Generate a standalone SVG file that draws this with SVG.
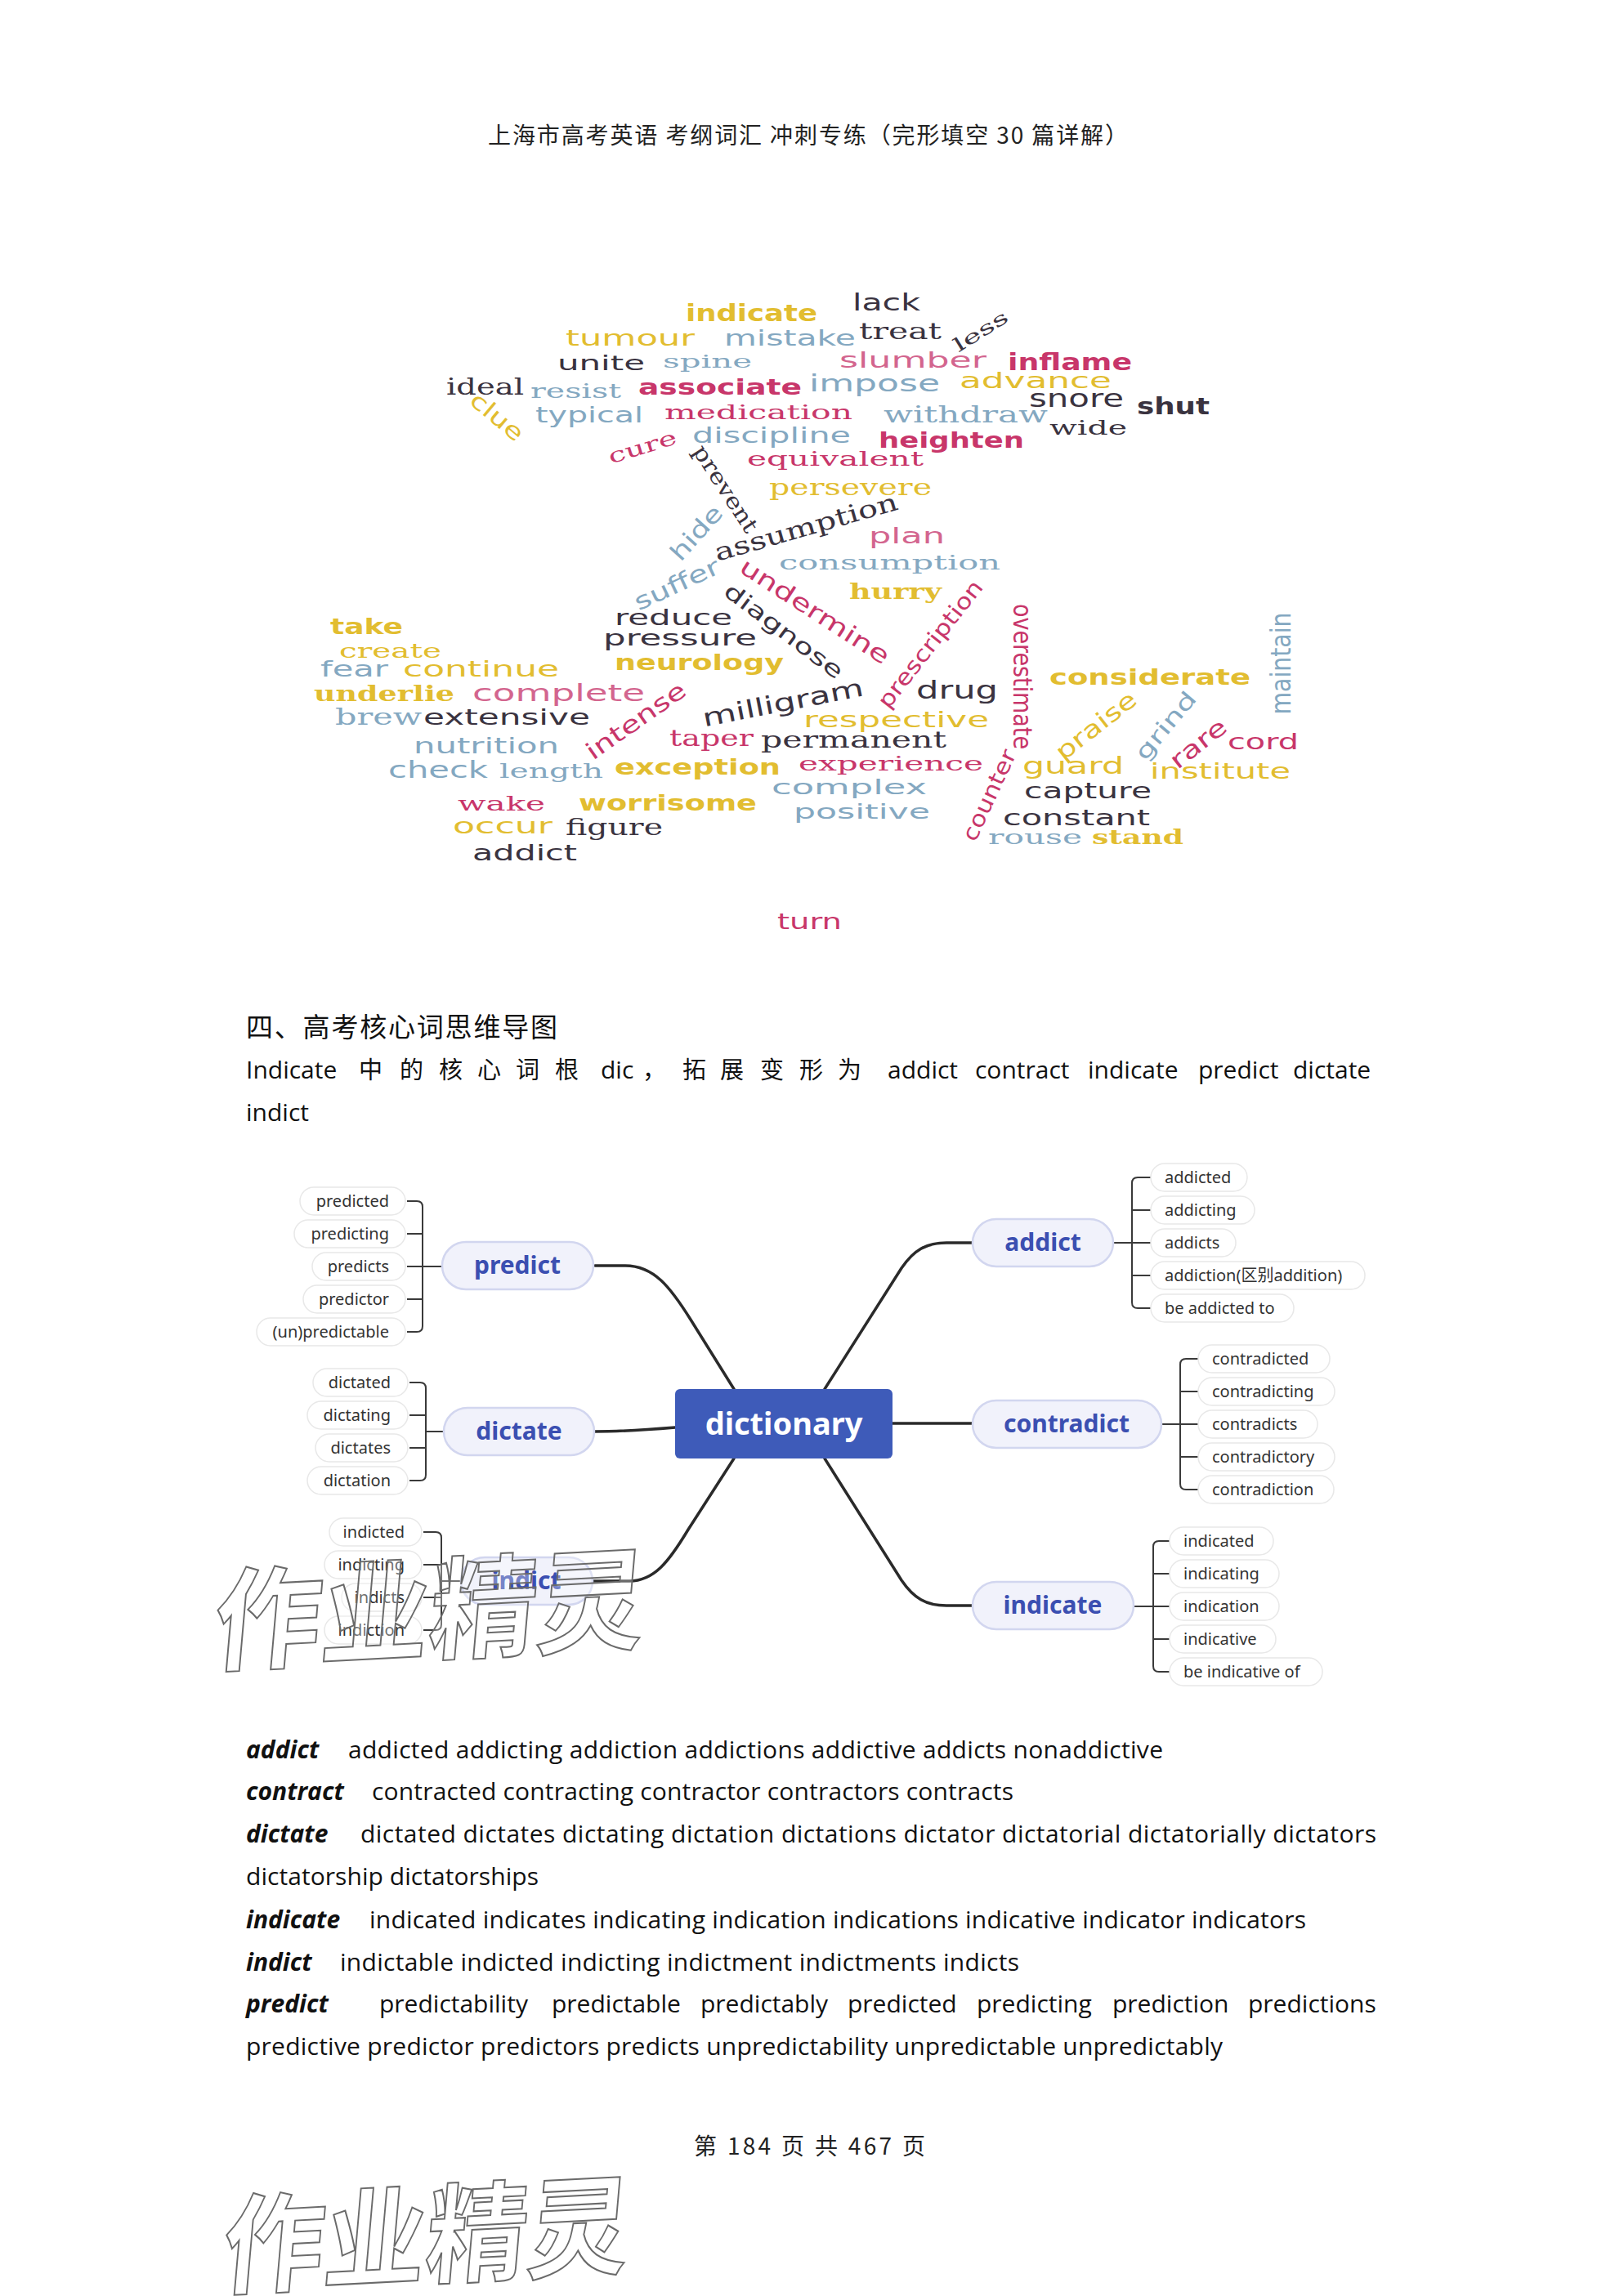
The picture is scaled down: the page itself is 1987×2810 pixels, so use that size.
<svg xmlns="http://www.w3.org/2000/svg" width="1987" height="2810" viewBox="0 0 1987 2810">
<style>
.ws{font-family:"DejaVu Sans",sans-serif}
.wf{font-family:"DejaVu Serif",serif}
.y{fill:#E2BD30}.b{fill:#84A8C1}.p{fill:#C8366A}.l{fill:#D3658E}.d{fill:#3A3340}
.bd{font-weight:bold}
.r{text-anchor:middle;dominant-baseline:central}
.hdr{font-family:"Noto Sans CJK SC",sans-serif;font-size:28px;fill:#222}
.ttl{font-family:"Noto Sans CJK SC",sans-serif;font-size:33px;fill:#111}
.body{font-family:"Open Sans","Noto Sans CJK SC",sans-serif;font-size:30px;fill:#111}
.cjk{font-family:"Noto Sans CJK SC",sans-serif;font-size:29px}
.kw{font-weight:bold;font-style:italic}
.cp{fill:#fff;stroke:#E8E8E8;stroke-width:1.5}
.ct{font-family:"Noto Sans","Noto Sans CJK SC",sans-serif;font-size:20px;fill:#333}
.mp{fill:#F1F2FB;stroke:#D2D6EF;stroke-width:2.5}
.mt{font-family:"Noto Sans",sans-serif;font-size:30px;font-weight:bold;fill:#3B4FB1;text-anchor:middle}
.cn{fill:none;stroke:#2A2A2A;stroke-width:3.5;stroke-linecap:round}
.br{fill:none;stroke:#3A3A3A;stroke-width:2}
.wm{font-family:"Noto Sans CJK SC",sans-serif;font-weight:bold;fill:#fff;fill-opacity:0.3;stroke:#6A6A6A;stroke-width:2}
</style>
<rect width="1987" height="2810" fill="#fff"/>

<text class="hdr" x="597" y="176" textLength="783" lengthAdjust="spacing">上海市高考英语  考纲词汇  冲刺专练（完形填空 30 篇详解）</text>

<g id="wordcloud" font-size="27" lengthAdjust="spacingAndGlyphs">
<text class="ws y bd" x="839" y="393" font-size="28" textLength="161" lengthAdjust="spacingAndGlyphs">indicate</text>
<text class="ws d" x="1043" y="380" font-size="28" textLength="83" lengthAdjust="spacingAndGlyphs">lack</text>
<text class="ws y" x="692" y="423" textLength="158" lengthAdjust="spacingAndGlyphs">tumour</text>
<text class="ws b" x="886" y="423" textLength="161" lengthAdjust="spacingAndGlyphs">mistake</text>
<text class="wf d" x="1051" y="415" font-size="28" textLength="101" lengthAdjust="spacingAndGlyphs">treat</text>
<text class="ws d" x="682" y="453" font-size="25" textLength="107" lengthAdjust="spacingAndGlyphs">unite</text>
<text class="wf b" x="811" y="450" font-size="23" textLength="109" lengthAdjust="spacingAndGlyphs">spine</text>
<text class="ws l" x="1027" y="450" textLength="180" lengthAdjust="spacingAndGlyphs">slumber</text>
<text class="ws p bd" x="1233" y="453" font-size="28" textLength="152" lengthAdjust="spacingAndGlyphs">inflame</text>
<text class="wf d" x="546" y="483" textLength="95" lengthAdjust="spacingAndGlyphs">ideal</text>
<text class="wf b" x="649" y="487" font-size="24" textLength="111" lengthAdjust="spacingAndGlyphs">resist</text>
<text class="ws p bd" x="781" y="483" textLength="200" lengthAdjust="spacingAndGlyphs">associate</text>
<text class="ws b" x="990" y="479" font-size="28" textLength="160" lengthAdjust="spacingAndGlyphs">impose</text>
<text class="ws y" x="1174" y="475" textLength="186" lengthAdjust="spacingAndGlyphs">advance</text>
<text class="ws d" x="1259" y="498" font-size="30" textLength="116" lengthAdjust="spacingAndGlyphs">snore</text>
<text class="ws d bd" x="1391" y="507" font-size="29" textLength="89" lengthAdjust="spacingAndGlyphs">shut</text>
<text class="ws b" x="655" y="517" font-size="26" textLength="132" lengthAdjust="spacingAndGlyphs">typical</text>
<text class="wf p" x="813" y="513" font-size="25" textLength="230" lengthAdjust="spacingAndGlyphs">medication</text>
<text class="wf b" x="1081" y="517" font-size="28" textLength="201" lengthAdjust="spacingAndGlyphs">withdraw</text>
<text class="wf d" x="1284" y="532" font-size="25" textLength="95" lengthAdjust="spacingAndGlyphs">wide</text>
<text class="ws b" x="847" y="542" font-size="26" textLength="194" lengthAdjust="spacingAndGlyphs">discipline</text>
<text class="ws p bd" x="1075" y="548" textLength="178" lengthAdjust="spacingAndGlyphs">heighten</text>
<text class="wf p" x="914" y="570" font-size="25" textLength="216" lengthAdjust="spacingAndGlyphs">equivalent</text>
<text class="wf y" x="941" y="606" textLength="199" lengthAdjust="spacingAndGlyphs">persevere</text>
<text class="ws l" x="1063" y="665" textLength="93" lengthAdjust="spacingAndGlyphs">plan</text>
<text class="wf b" x="953" y="697" font-size="25" textLength="271" lengthAdjust="spacingAndGlyphs">consumption</text>
<text class="wf y bd" x="1039" y="733" font-size="26" textLength="113" lengthAdjust="spacingAndGlyphs">hurry</text>
<text class="ws d" x="752" y="765" textLength="144" lengthAdjust="spacingAndGlyphs">reduce</text>
<text class="ws d" x="738" y="790" textLength="188" lengthAdjust="spacingAndGlyphs">pressure</text>
<text class="ws y bd" x="752" y="820" textLength="207" lengthAdjust="spacingAndGlyphs">neurology</text>
<text class="ws y bd" x="404" y="776" textLength="89" lengthAdjust="spacingAndGlyphs">take</text>
<text class="wf y" x="415" y="805" font-size="25" textLength="125" lengthAdjust="spacingAndGlyphs">create</text>
<text class="ws b" x="392" y="828" textLength="83" lengthAdjust="spacingAndGlyphs">fear</text>
<text class="ws y" x="493" y="828" textLength="191" lengthAdjust="spacingAndGlyphs">continue</text>
<text class="wf y bd" x="384" y="858" font-size="26" textLength="172" lengthAdjust="spacingAndGlyphs">underlie</text>
<text class="ws l" x="578" y="858" font-size="28" textLength="211" lengthAdjust="spacingAndGlyphs">complete</text>
<text class="wf b" x="410" y="887" textLength="106" lengthAdjust="spacingAndGlyphs">brew</text>
<text class="ws d" x="518" y="887" font-size="26" textLength="204" lengthAdjust="spacingAndGlyphs">extensive</text>
<text class="ws b" x="506" y="922" font-size="26" textLength="178" lengthAdjust="spacingAndGlyphs">nutrition</text>
<text class="ws b" x="475" y="952" font-size="28" textLength="122" lengthAdjust="spacingAndGlyphs">check</text>
<text class="wf b" x="611" y="952" font-size="24" textLength="127" lengthAdjust="spacingAndGlyphs">length</text>
<text class="ws y bd" x="752" y="948" font-size="26" textLength="203" lengthAdjust="spacingAndGlyphs">exception</text>
<text class="wf p" x="977" y="943" font-size="25" textLength="226" lengthAdjust="spacingAndGlyphs">experience</text>
<text class="ws d" x="1121" y="855" font-size="31" textLength="100" lengthAdjust="spacingAndGlyphs">drug</text>
<text class="ws y" x="983" y="890" textLength="227" lengthAdjust="spacingAndGlyphs">respective</text>
<text class="wf p" x="819" y="913" textLength="103" lengthAdjust="spacingAndGlyphs">taper</text>
<text class="wf d" x="931" y="915" font-size="28" textLength="227" lengthAdjust="spacingAndGlyphs">permanent</text>
<text class="ws y bd" x="1284" y="838" textLength="246" lengthAdjust="spacingAndGlyphs">considerate</text>
<text class="ws p" x="1502" y="917" textLength="87" lengthAdjust="spacingAndGlyphs">cord</text>
<text class="ws y" x="1251" y="947" font-size="29" textLength="124" lengthAdjust="spacingAndGlyphs">guard</text>
<text class="ws y" x="1407" y="953" textLength="172" lengthAdjust="spacingAndGlyphs">institute</text>
<text class="ws b" x="944" y="972" font-size="25" textLength="190" lengthAdjust="spacingAndGlyphs">complex</text>
<text class="ws d" x="1253" y="977" font-size="26" textLength="156" lengthAdjust="spacingAndGlyphs">capture</text>
<text class="ws b" x="971" y="1002" font-size="25" textLength="167" lengthAdjust="spacingAndGlyphs">positive</text>
<text class="ws d" x="1227" y="1010" font-size="26" textLength="180" lengthAdjust="spacingAndGlyphs">constant</text>
<text class="wf p" x="560" y="992" font-size="24" textLength="107" lengthAdjust="spacingAndGlyphs">wake</text>
<text class="ws y bd" x="708" y="992" textLength="218" lengthAdjust="spacingAndGlyphs">worrisome</text>
<text class="ws y" x="554" y="1020" textLength="122" lengthAdjust="spacingAndGlyphs">occur</text>
<text class="wf d" x="692" y="1022" textLength="119" lengthAdjust="spacingAndGlyphs">figure</text>
<text class="wf b" x="1209" y="1033" font-size="25" textLength="115" lengthAdjust="spacingAndGlyphs">rouse</text>
<text class="wf y bd" x="1336" y="1033" font-size="25" textLength="112" lengthAdjust="spacingAndGlyphs">stand</text>
<text class="ws d" x="578" y="1053" textLength="128" lengthAdjust="spacingAndGlyphs">addict</text>
<text class="ws p" x="951" y="1137" textLength="79" lengthAdjust="spacingAndGlyphs">turn</text>

<text class="wf d r" transform="translate(1200 405) rotate(-32)" font-size="23" textLength="74" lengthAdjust="spacingAndGlyphs">less</text>
<text class="ws y r" transform="translate(608 510) rotate(40)" font-size="28" textLength="76" lengthAdjust="spacingAndGlyphs">clue</text>
<text class="wf p r" transform="translate(786 547) rotate(-17)" font-size="25" textLength="86" lengthAdjust="spacingAndGlyphs">cure</text>
<text class="wf d r" transform="translate(888 598) rotate(57)" font-size="27" textLength="122" lengthAdjust="spacingAndGlyphs">prevent</text>
<text class="ws b r" transform="translate(852 652) rotate(-48)" font-size="29" textLength="80" lengthAdjust="spacingAndGlyphs">hide</text>
<text class="wf d r" transform="translate(986 645) rotate(-16)" font-size="30" textLength="232" lengthAdjust="spacingAndGlyphs">assumption</text>
<text class="ws b r" transform="translate(828 715) rotate(-25)" font-size="29" textLength="112" lengthAdjust="spacingAndGlyphs">suffer</text>
<text class="ws p r" transform="translate(997 748) rotate(33)" font-size="29" textLength="212" lengthAdjust="spacingAndGlyphs">undermine</text>
<text class="ws d r" transform="translate(959 772) rotate(37)" font-size="27" textLength="175" lengthAdjust="spacingAndGlyphs">diagnose</text>
<text class="ws p r" transform="translate(1138 788) rotate(-52)" font-size="27" textLength="190" lengthAdjust="spacingAndGlyphs">prescription</text>
<text class="ws p r" transform="translate(1251 828) rotate(90)" font-size="32" textLength="178" lengthAdjust="spacingAndGlyphs">overestimate</text>
<text class="ws p r" transform="translate(778 882) rotate(-35)" font-size="29" textLength="142" lengthAdjust="spacingAndGlyphs">intense</text>
<text class="ws d r" transform="translate(958 860) rotate(-11)" font-size="30" textLength="200" lengthAdjust="spacingAndGlyphs">milligram</text>
<text class="ws b r" transform="translate(1567 812) rotate(-90)" font-size="33" textLength="125" lengthAdjust="spacingAndGlyphs">maintain</text>
<text class="ws y r" transform="translate(1341 888) rotate(-38)" font-size="29" textLength="117" lengthAdjust="spacingAndGlyphs">praise</text>
<text class="ws b r" transform="translate(1426 888) rotate(-50)" font-size="27" textLength="100" lengthAdjust="spacingAndGlyphs">grind</text>
<text class="ws p r" transform="translate(1466 910) rotate(-38)" font-size="29" textLength="80" lengthAdjust="spacingAndGlyphs">rare</text>
<text class="ws p r" transform="translate(1210 973) rotate(-65)" font-size="27" textLength="120" lengthAdjust="spacingAndGlyphs">counter</text>
</g>

<g id="section-title">
<text class="ttl" x="301" y="1269" textLength="381" lengthAdjust="spacing">四、高考核心词思维导图</text>
<text class="body" y="1320"><tspan x="301">Indicate</tspan><tspan class="cjk" x="439">中</tspan><tspan class="cjk" x="489">的</tspan><tspan class="cjk" x="537">核</tspan><tspan class="cjk" x="584">心</tspan><tspan class="cjk" x="631">词</tspan><tspan class="cjk" x="679">根</tspan><tspan x="735">dic</tspan><tspan class="cjk" x="786">，</tspan><tspan class="cjk" x="835">拓</tspan><tspan class="cjk" x="881">展</tspan><tspan class="cjk" x="930">变</tspan><tspan class="cjk" x="978">形</tspan><tspan class="cjk" x="1025">为</tspan><tspan x="1086">addict</tspan><tspan x="1193">contract</tspan><tspan x="1331">indicate</tspan><tspan x="1466">predict</tspan><tspan x="1582">dictate</tspan></text>
<text class="body" x="301" y="1372">indict</text>
</g>

<g id="connectors">
<path class="cn" d="M728,1549 H765 C800,1549 820,1575 845,1615 L898,1700"/>
<path class="cn" d="M727,1752 C765,1752 790,1750 826,1747"/>
<path class="cn" d="M725,1935 H770 C800,1935 818,1912 842,1872 L898,1785"/>
<path class="cn" d="M1009,1700 L1103,1552 C1118,1530 1133,1521 1158,1521 H1190"/>
<path class="cn" d="M1092,1742 H1190"/>
<path class="cn" d="M1009,1785 L1103,1934 C1118,1956 1133,1965 1158,1965 H1190"/>
<path class="br" d="M498,1470 H510 Q517,1470 517,1477 V1623 Q517,1630 510,1630 H498 M498,1510 H517 M498,1550 H541 M498,1590 H517"/>
<path class="br" d="M501,1692 H514 Q521,1692 521,1699 V1805 Q521,1812 514,1812 H501 M501,1732 H521 M521,1752 H543 M501,1772 H521"/>
<path class="br" d="M518,1875 H533 Q540,1875 540,1882 V1988 Q540,1995 533,1995 H518 M518,1915 H540 M518,1955 H540 M540,1935 H564"/>
<path class="br" d="M1362,1521 H1408 M1408,1441 H1392 Q1385,1441 1385,1448 V1594 Q1385,1601 1392,1601 H1408 M1385,1481 H1408 M1385,1561 H1408"/>
<path class="br" d="M1421,1743 H1466 M1466,1663 H1451 Q1444,1663 1444,1670 V1816 Q1444,1823 1451,1823 H1466 M1444,1703 H1466 M1444,1783 H1466"/>
<path class="br" d="M1387,1966 H1431 M1431,1886 H1418 Q1411,1886 1411,1893 V2039 Q1411,2046 1418,2046 H1431 M1411,1926 H1431 M1411,2006 H1431"/>
</g>

<g id="n-dictionary"><rect x="826" y="1700" width="266" height="85" rx="6" fill="#3E5BB9"/><text x="959" y="1756" font-family="Noto Sans,sans-serif" font-size="38" font-weight="bold" fill="#fff" text-anchor="middle">dictionary</text></g>
<g id="n-predict"><rect class="mp" x="541" y="1520" width="185" height="58" rx="29"/><text class="mt" x="633" y="1559">predict</text></g>
<g id="n-dictate"><rect class="mp" x="543" y="1723" width="184" height="58" rx="29"/><text class="mt" x="635" y="1762">dictate</text></g>
<g id="n-indict"><rect class="mp" x="564" y="1906" width="161" height="58" rx="29"/><text class="mt" x="644" y="1945">indict</text></g>
<g id="n-addict"><rect class="mp" x="1190" y="1492" width="172" height="58" rx="29"/><text class="mt" x="1276" y="1531">addict</text></g>
<g id="n-contradict"><rect class="mp" x="1190" y="1714" width="231" height="58" rx="29"/><text class="mt" x="1305" y="1753">contradict</text></g>
<g id="n-indicate"><rect class="mp" x="1190" y="1936" width="197" height="58" rx="29"/><text class="mt" x="1288" y="1975">indicate</text></g>

<g id="n-predicted"><rect class="cp" x="367" y="1453" width="129" height="34" rx="17"/><text class="ct" x="476" y="1477" text-anchor="end">predicted</text></g>
<g id="n-predicting"><rect class="cp" x="360" y="1493" width="136" height="34" rx="17"/><text class="ct" x="476" y="1517" text-anchor="end">predicting</text></g>
<g id="n-predicts"><rect class="cp" x="382" y="1533" width="114" height="34" rx="17"/><text class="ct" x="476" y="1557" text-anchor="end">predicts</text></g>
<g id="n-predictor"><rect class="cp" x="371" y="1573" width="125" height="34" rx="17"/><text class="ct" x="476" y="1597" text-anchor="end">predictor</text></g>
<g id="n-unpredictable"><rect class="cp" x="314" y="1613" width="182" height="34" rx="17"/><text class="ct" x="476" y="1637" text-anchor="end">(un)predictable</text></g>

<g id="n-dictated"><rect class="cp" x="383" y="1675" width="116" height="34" rx="17"/><text class="ct" x="478" y="1699" text-anchor="end">dictated</text></g>
<g id="n-dictating"><rect class="cp" x="376" y="1715" width="123" height="34" rx="17"/><text class="ct" x="478" y="1739" text-anchor="end">dictating</text></g>
<g id="n-dictates"><rect class="cp" x="386" y="1755" width="113" height="34" rx="17"/><text class="ct" x="478" y="1779" text-anchor="end">dictates</text></g>
<g id="n-dictation"><rect class="cp" x="376" y="1795" width="123" height="34" rx="17"/><text class="ct" x="478" y="1819" text-anchor="end">dictation</text></g>

<g id="n-indicted"><rect class="cp" x="403" y="1858" width="113" height="34" rx="17"/><text class="ct" x="495" y="1882" text-anchor="end">indicted</text></g>
<g id="n-indicting"><rect class="cp" x="397" y="1898" width="119" height="34" rx="17"/><text class="ct" x="495" y="1922" text-anchor="end">indicting</text></g>
<g id="n-indicts"><rect class="cp" x="418" y="1938" width="98" height="34" rx="17"/><text class="ct" x="495" y="1962" text-anchor="end">indicts</text></g>
<g id="n-indiction"><rect class="cp" x="397" y="1978" width="119" height="34" rx="17"/><text class="ct" x="495" y="2002" text-anchor="end">indiction</text></g>

<g id="n-addicted"><rect class="cp" x="1408" y="1424" width="118" height="34" rx="17"/><text class="ct" x="1425" y="1448">addicted</text></g>
<g id="n-addicting"><rect class="cp" x="1408" y="1464" width="127" height="34" rx="17"/><text class="ct" x="1425" y="1488">addicting</text></g>
<g id="n-addicts"><rect class="cp" x="1408" y="1504" width="104" height="34" rx="17"/><text class="ct" x="1425" y="1528">addicts</text></g>
<g id="n-addiction"><rect class="cp" x="1408" y="1544" width="262" height="34" rx="17"/><text class="ct" x="1425" y="1568">addiction(区别addition)</text></g>
<g id="n-beaddictedto"><rect class="cp" x="1408" y="1584" width="175" height="34" rx="17"/><text class="ct" x="1425" y="1608">be addicted to</text></g>

<g id="n-contradicted"><rect class="cp" x="1466" y="1646" width="161" height="34" rx="17"/><text class="ct" x="1483" y="1670">contradicted</text></g>
<g id="n-contradicting"><rect class="cp" x="1466" y="1686" width="167" height="34" rx="17"/><text class="ct" x="1483" y="1710">contradicting</text></g>
<g id="n-contradicts"><rect class="cp" x="1466" y="1726" width="146" height="34" rx="17"/><text class="ct" x="1483" y="1750">contradicts</text></g>
<g id="n-contradictory"><rect class="cp" x="1466" y="1766" width="167" height="34" rx="17"/><text class="ct" x="1483" y="1790">contradictory</text></g>
<g id="n-contradiction"><rect class="cp" x="1466" y="1806" width="166" height="34" rx="17"/><text class="ct" x="1483" y="1830">contradiction</text></g>

<g id="n-indicated"><rect class="cp" x="1431" y="1869" width="127" height="34" rx="17"/><text class="ct" x="1448" y="1893">indicated</text></g>
<g id="n-indicating"><rect class="cp" x="1431" y="1909" width="134" height="34" rx="17"/><text class="ct" x="1448" y="1933">indicating</text></g>
<g id="n-indication"><rect class="cp" x="1431" y="1949" width="134" height="34" rx="17"/><text class="ct" x="1448" y="1973">indication</text></g>
<g id="n-indicative"><rect class="cp" x="1431" y="1989" width="130" height="34" rx="17"/><text class="ct" x="1448" y="2013">indicative</text></g>
<g id="n-beindicativeof"><rect class="cp" x="1431" y="2029" width="187" height="34" rx="17"/><text class="ct" x="1448" y="2053">be indicative of</text></g>

<text class="wm" transform="translate(258 2035) rotate(-3) skewX(-8)" x="0" y="0" font-size="136" textLength="528" lengthAdjust="spacingAndGlyphs">作业精灵</text>

<g id="word-lists" class="body">
<text y="2152"><tspan class="kw" x="301">addict</tspan></text>
<text x="426" y="2152" textLength="997" lengthAdjust="spacing">addicted addicting addiction addictions addictive addicts nonaddictive</text>
<text y="2203"><tspan class="kw" x="301">contract</tspan></text>
<text x="455" y="2203" textLength="785" lengthAdjust="spacing">contracted contracting contractor contractors contracts</text>
<text y="2255"><tspan class="kw" x="301">dictate</tspan></text>
<text x="441" y="2255" textLength="1243" lengthAdjust="spacing">dictated dictates dictating dictation dictations dictator dictatorial dictatorially dictators</text>
<text x="301" y="2307" textLength="358" lengthAdjust="spacing">dictatorship dictatorships</text>
<text y="2360"><tspan class="kw" x="301">indicate</tspan></text>
<text x="452" y="2360" textLength="1146" lengthAdjust="spacing">indicated indicates indicating indication indications indicative indicator indicators</text>
<text y="2412"><tspan class="kw" x="301">indict</tspan></text>
<text x="416" y="2412" textLength="831" lengthAdjust="spacing">indictable indicted indicting indictment indictments indicts</text>
<text y="2463"><tspan class="kw" x="301">predict</tspan></text>
<text y="2463"><tspan x="464">predictability</tspan><tspan x="675">predictable</tspan><tspan x="857">predictably</tspan><tspan x="1037">predicted</tspan><tspan x="1195">predicting</tspan><tspan x="1361">prediction</tspan><tspan x="1527">predictions</tspan></text>
<text x="301" y="2515" textLength="1195" lengthAdjust="spacing">predictive predictor predictors predicts unpredictability unpredictable unpredictably</text>
</g>

<text class="hdr" x="849" y="2637" textLength="283" lengthAdjust="spacing">第 184 页 共 467 页</text>

<text class="wm" transform="translate(269 2798) rotate(-3) skewX(-8)" x="0" y="0" font-size="132" textLength="498" lengthAdjust="spacingAndGlyphs">作业精灵</text>
</svg>
